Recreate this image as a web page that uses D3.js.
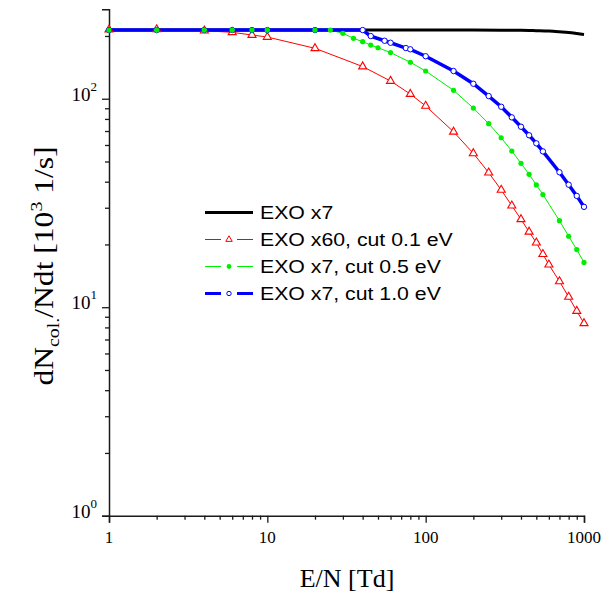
<!DOCTYPE html>
<html>
<head>
<meta charset="utf-8">
<script src="https://cdn.jsdelivr.net/npm/d3@7"></script>
<style>
  html, body { margin: 0; padding: 0; background: #fff; }
  svg { display: block; }
</style>
</head>
<body>
<svg id="chart" width="609" height="601"></svg>
<script>
// ---------- data ----------
const xBlack = [1, 10, 100, 200, 300, 400, 500, 600, 700, 800, 900, 1000];
const yBlack = [213.5, 213.5, 213.5, 213.5, 213.3, 213, 212, 211, 209.5, 208, 205.5, 203];

const xRed = [1, 2, 4, 6, 8, 10, 20, 40, 60, 80, 100, 150, 200, 250, 300, 350, 400, 450, 500, 550, 600, 700, 800, 900, 1000];
const yRed = [214.5, 215, 212, 208.2, 202.1, 197.7, 174.5, 142.7, 121.6, 105.3, 92.3, 69.4, 54.7, 44.2, 36.5, 30.7, 26.4, 23.0, 20.4, 17.96, 16.0, 13.3, 11.2, 9.59, 8.37];

const xGreen = [1, 2, 4, 6, 8, 10, 20, 25, 30, 35, 40, 45, 50, 60, 80, 100, 150, 200, 250, 300, 350, 400, 450, 500, 550, 700, 800, 900, 1000];
const yGreen = [213.5, 213.5, 213.5, 213.5, 213.5, 213.5, 213.5, 213.5, 205.9, 194.9, 187.7, 180.9, 175.6, 166.5, 149.6, 135.8, 109.7, 90.2, 75.9, 65.0, 56.1, 49.0, 43.4, 38.6, 34.7, 26.0, 21.9, 18.9, 16.4];

const xBlue = [1, 2, 4, 6, 8, 10, 20, 40, 45, 55, 60, 75, 80, 100, 150, 200, 250, 300, 350, 400, 450, 500, 550, 700, 800, 900, 1000];
const yBlue = [213.5, 213.5, 213.5, 213.5, 213.5, 213.5, 213.5, 213.5, 199.8, 189.7, 185.6, 175.0, 172.6, 159.9, 135.8, 118.0, 103.0, 91.5, 81.4, 73.4, 66.8, 61.1, 55.9, 44.4, 38.7, 34.2, 30.3];

const seriesNames = ["EXO x7", "EXO x60, cut 0.1 eV", "EXO x7, cut 0.5 eV", "EXO x7, cut 1.0 eV"];
const xTickValues = [1, 10, 100, 1000];
const xTickLabels = ["1", "10", "100", "1000"];
const yTickValues = [1, 10, 100];
const yTickExponents = ["0", "1", "2"];
const xDomain = [1, 1000];
const yDomain = [1, 268.5];

// ---------- setup ----------
const svg = d3.select("#chart");
const x = d3.scaleLog().domain(xDomain).range([109, 584]);
const y = d3.scaleLog().domain(yDomain).range([515.7, 9.3]);

const serif = "'Liberation Serif', 'Times New Roman', serif";
const sans = "'Liberation Sans', Arial, sans-serif";

function minorTicks(lo, hi) {
  const out = [];
  for (let d = lo; d < hi; d *= 10) {
    for (let k = 2; k <= 9; k++) { if (d * k <= hi) out.push(d * k); }
  }
  return out;
}

// ---------- axes ----------
const axisColor = "#1a1a1a";
const gx = svg.append("g").attr("transform", `translate(0,${y(1)})`);
gx.call(d3.axisBottom(x).tickValues(xTickValues).tickSize(7).tickFormat(""));
const gxm = svg.append("g").attr("transform", `translate(0,${y(1)})`);
gxm.call(d3.axisBottom(x).tickValues(minorTicks(1, 1000)).tickSize(4).tickFormat(""));
gxm.select(".domain").remove();

const gy = svg.append("g").attr("transform", `translate(${x(1)},0)`);
gy.call(d3.axisLeft(y).tickValues(yTickValues).tickSize(7).tickFormat(""));
const gym = svg.append("g").attr("transform", `translate(${x(1)},0)`);
gym.call(d3.axisLeft(y).tickValues(minorTicks(1, 268.5)).tickSize(4).tickFormat(""));
gym.select(".domain").remove();

svg.selectAll(".domain").attr("stroke", axisColor).attr("stroke-width", 1.5);
svg.selectAll(".tick line").attr("stroke", axisColor).attr("stroke-width", 1.3);

// x tick labels
svg.append("g").selectAll("text")
  .data(xTickValues)
  .join("text")
  .attr("x", d => x(d))
  .attr("y", y(1) + 27)
  .attr("text-anchor", "middle")
  .attr("font-family", serif)
  .attr("font-size", 17)
  .attr("fill", "#000")
  .text((d, i) => xTickLabels[i]);

// y tick labels: 10^n
const ylab = svg.append("g").selectAll("text")
  .data(yTickValues)
  .join("text")
  .attr("x", x(1) - 12)
  .attr("y", d => y(d) + 2)
  .attr("text-anchor", "end")
  .attr("font-family", serif)
  .attr("font-size", 19)
  .attr("fill", "#000");
ylab.append("tspan").text("10");
ylab.append("tspan").attr("font-size", 13).attr("dy", -10).text((d, i) => yTickExponents[i]);

// axis titles
svg.append("text")
  .attr("x", 347)
  .attr("y", 587)
  .attr("text-anchor", "middle")
  .attr("font-family", serif)
  .attr("font-size", 26)
  .attr("fill", "#000")
  .text("E/N [Td]");

const yt = svg.append("text")
  .attr("transform", `translate(53,266) rotate(-90) scale(1.17,1)`)
  .attr("text-anchor", "middle")
  .attr("font-family", serif)
  .attr("font-size", 27)
  .attr("fill", "#000");
yt.append("tspan").text("dN");
yt.append("tspan").attr("font-size", 17).attr("dy", 6).text("col.");
yt.append("tspan").attr("dy", -6).text("/Ndt [10");
yt.append("tspan").attr("font-size", 17).attr("dy", -11).text("3");
yt.append("tspan").attr("dy", 11).text(" 1/s]");

// ---------- series ----------
const line = d3.line().x(d => x(d[0])).y(d => y(d[1]));
const zipS = (xs, ys) => xs.map((v, i) => [v, ys[i]]);

const black = zipS(xBlack, yBlack);
const red = zipS(xRed, yRed);
const green = zipS(xGreen, yGreen);
const blue = zipS(xBlue, yBlue);

const plot = svg.append("g");
plot.append("path").datum(black).attr("d", d3.line().curve(d3.curveMonotoneX).x(d => x(d[0])).y(d => y(d[1])))
  .attr("fill", "none").attr("stroke", "#000").attr("stroke-width", 3);
plot.append("path").datum(red).attr("d", line)
  .attr("fill", "none").attr("stroke", "#ff0000").attr("stroke-width", 1);
plot.append("path").datum(green).attr("d", line)
  .attr("fill", "none").attr("stroke", "#00ee00").attr("stroke-width", 1);
plot.append("path").datum(blue).attr("d", line)
  .attr("fill", "none").attr("stroke", "#0000ff").attr("stroke-width", 3.5);

const tri = d3.symbol().type(d3.symbolTriangle).size(28);
plot.append("g").selectAll("path").data(red).join("path")
  .attr("d", tri)
  .attr("transform", d => `translate(${x(d[0])},${y(d[1])})`)
  .attr("fill", "#fff").attr("stroke", "#ff0000").attr("stroke-width", 1.1);

plot.append("g").selectAll("circle").data(blue).join("circle")
  .attr("cx", d => x(d[0])).attr("cy", d => y(d[1])).attr("r", 2.7)
  .attr("fill", "#fff").attr("stroke", "#0000ff").attr("stroke-width", 1);

plot.append("g").selectAll("circle").data(green).join("circle")
  .attr("cx", d => x(d[0])).attr("cy", d => y(d[1])).attr("r", 2.6)
  .attr("fill", "#00ee00").attr("stroke", "none");

// ---------- legend ----------
const legendRows = [
  { color: "#000", width: 3, marker: "none" },
  { color: "#ff0000", width: 1, marker: "tri" },
  { color: "#00ee00", width: 1, marker: "dot" },
  { color: "#0000ff", width: 3, marker: "ring" }
];
const lg = svg.append("g");
legendRows.forEach((r, i) => {
  const yy = 212.5 + i * 27;
  const g = lg.append("g");
  if (r.marker === "none") {
    g.append("line").attr("x1", 205).attr("x2", 253).attr("y1", yy).attr("y2", yy)
      .attr("stroke", r.color).attr("stroke-width", r.width);
  } else {
    g.append("line").attr("x1", 205).attr("x2", 221).attr("y1", yy).attr("y2", yy)
      .attr("stroke", r.color).attr("stroke-width", r.width);
    g.append("line").attr("x1", 237).attr("x2", 253).attr("y1", yy).attr("y2", yy)
      .attr("stroke", r.color).attr("stroke-width", r.width);
    if (r.marker === "tri") {
      g.append("path").attr("d", d3.symbol().type(d3.symbolTriangle).size(18)())
        .attr("transform", `translate(229,${yy})`)
        .attr("fill", "#fff").attr("stroke", r.color).attr("stroke-width", 1);
    } else if (r.marker === "dot") {
      g.append("circle").attr("cx", 229).attr("cy", yy).attr("r", 2.4).attr("fill", r.color);
    } else {
      g.append("circle").attr("cx", 229).attr("cy", yy).attr("r", 2.2)
        .attr("fill", "#fff").attr("stroke", r.color).attr("stroke-width", 1);
    }
  }
  g.append("text")
    .attr("transform", `translate(260,${yy + 6.5}) scale(1.12,1)`)
    .attr("font-family", sans).attr("font-size", 19).attr("fill", "#000")
    .text(seriesNames[i]);
});
</script>
</body>
</html>
